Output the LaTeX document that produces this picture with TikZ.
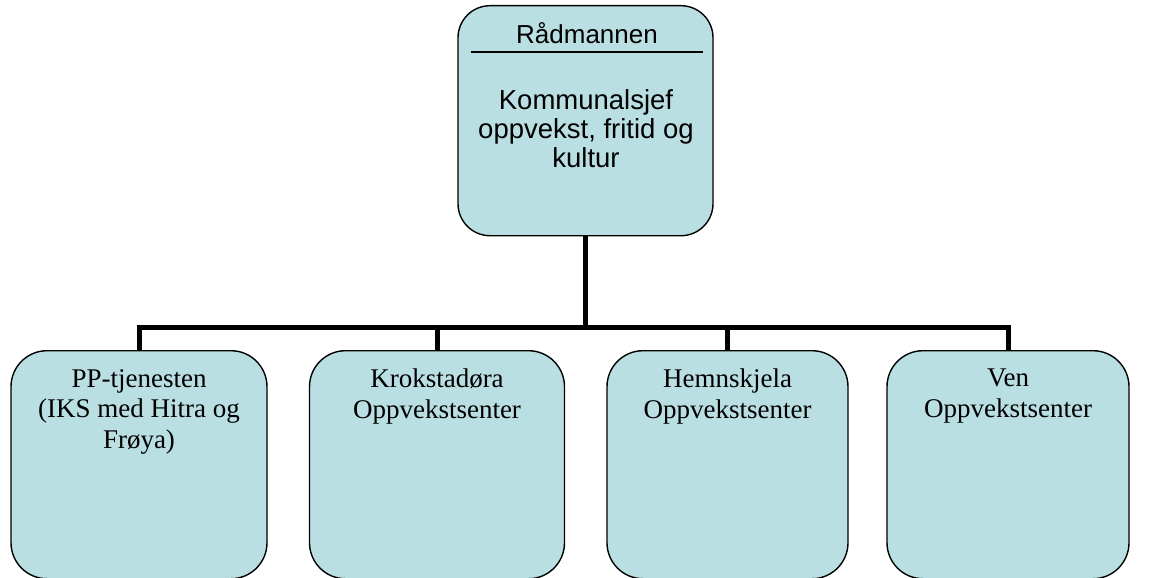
\documentclass[tikz,border=0pt]{standalone}
\usepackage{fontspec}
\setmainfont{Liberation Serif}
\newfontfamily\arialfont{Liberation Sans}
\definecolor{boxfill}{HTML}{BADFE2}
\begin{document}
\begin{tikzpicture}[x=1pt,y=-1pt,
  orgbox/.style={draw=black, line width=1.4pt, fill=boxfill, rounded corners=36pt, anchor=north, inner sep=0pt},
  bottombox/.style={orgbox, minimum width=#1, minimum height=228pt},
  serif26/.style={font=\fontsize{27}{30.5}\selectfont, align=center, anchor=north, inner sep=0pt},
  sans26/.style={font=\arialfont\fontsize{27.5}{28.8}\selectfont, align=center, inner sep=0pt},
  conn/.style={line width=5pt, line join=miter}
]
\useasboundingbox (0,0) rectangle (1157,578);
% top box
\node[orgbox, rounded corners=32pt, minimum width=255pt, minimum height=230pt] (top) at (585.5,5) {};
\node[sans26, font=\arialfont\fontsize{26}{28}\selectfont] (rad) at (587,33) {Rådmannen};
\draw[line width=1.4pt] (471,52) -- (703,52);
\node[sans26] (kom) at (586,128.5) {Kommunalsjef\\oppvekst, fritid og\\kultur};
% bottom boxes
\node[bottombox=256pt] (pp) at (139,350) {};
\node[bottombox=255pt] (kro) at (437,350) {};
\node[bottombox=241pt] (hem) at (727.5,350) {};
\node[bottombox=242pt] (ven) at (1008,350) {};
\node[serif26] (pptxt) at ([yshift=-19pt]pp.north) {PP-tjenesten\\(IKS med Hitra og\\Frøya)};
\node[serif26] (krotxt) at ([yshift=-19pt]kro.north) {Krokstadøra\\Oppvekstsenter};
\node[serif26] (hemtxt) at ([yshift=-19pt]hem.north) {Hemnskjela\\Oppvekstsenter};
\node[serif26] (ventxt) at ([yshift=-19pt]ven.north) {Ven\\Oppvekstsenter};
% connectors
\coordinate (bus) at (0,327);
\draw[conn] (top.south) -- (top.south |- bus);
\draw[conn] (pp.north) -- (pp.north |- bus) -- (ven.north |- bus) -- (ven.north);
\draw[conn] (kro.north) -- (kro.north |- bus);
\draw[conn] (hem.north) -- (hem.north |- bus);
\end{tikzpicture}
\end{document}
